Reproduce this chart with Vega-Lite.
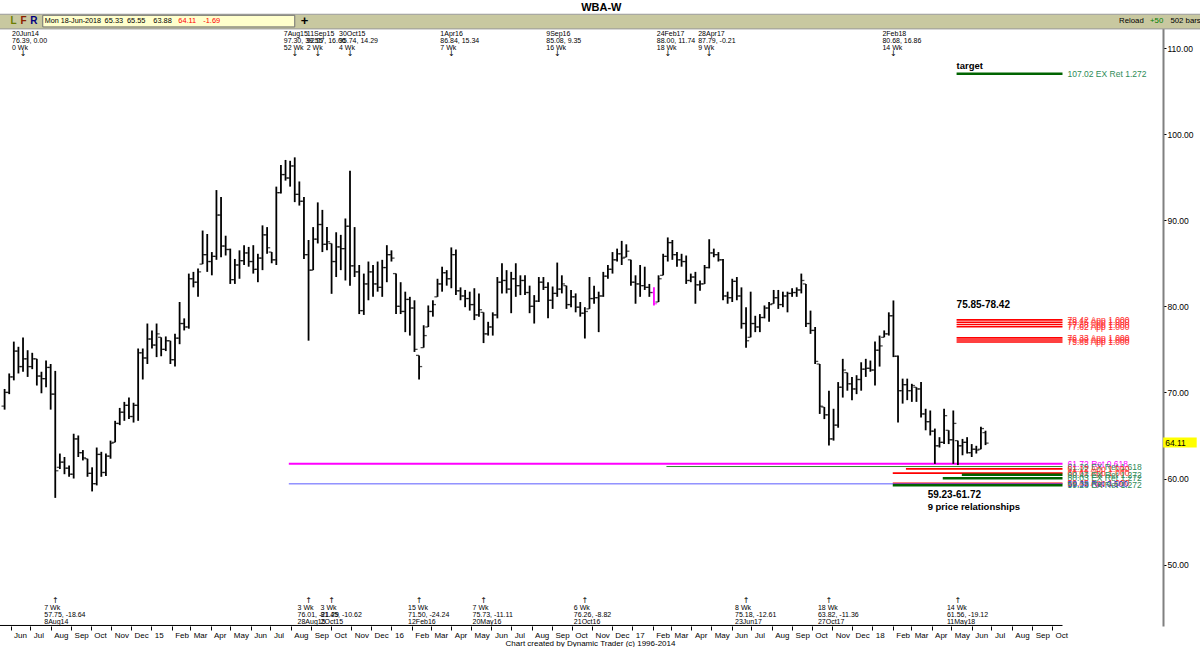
{
"$schema":"https://vega.github.io/schema/vega-lite/v6.json",
"width":1200,"height":612,
"autosize":{"type":"none"},
"padding":{"left":0,"top":14,"right":0,"bottom":21},
"background":"white",
"config":{"view":{"stroke":null},"text":{"font":"Liberation Sans"}},
"title":{"text":"WBA-W","font":"Liberation Sans","fontSize":11,"fontWeight":"bold","anchor":"middle","frame":"bounds","offset":1,"color":"#000"},
"datasets":{
"one":[{}],
"bars":[
{"d":"2014-05-23","o":68.4,"h":70.4,"l":68.0,"c":70.0},
{"d":"2014-05-30","o":70.0,"h":72.2,"l":69.8,"c":71.8},
{"d":"2014-06-06","o":71.8,"h":75.9,"l":71.4,"c":74.8},
{"d":"2014-06-13","o":74.8,"h":75.3,"l":72.2,"c":73.0},
{"d":"2014-06-20","o":73.0,"h":76.39,"l":72.4,"c":73.9},
{"d":"2014-06-27","o":73.9,"h":74.9,"l":71.8,"c":73.0},
{"d":"2014-07-04","o":73.0,"h":74.6,"l":72.7,"c":73.9},
{"d":"2014-07-11","o":73.9,"h":73.9,"l":70.8,"c":71.9},
{"d":"2014-07-18","o":71.9,"h":72.4,"l":69.9,"c":71.6},
{"d":"2014-07-25","o":71.6,"h":73.7,"l":70.6,"c":72.9},
{"d":"2014-08-01","o":72.9,"h":73.3,"l":68.0,"c":69.8},
{"d":"2014-08-08","o":69.8,"h":72.5,"l":57.75,"c":60.9},
{"d":"2014-08-15","o":61.3,"h":62.9,"l":61.1,"c":61.9},
{"d":"2014-08-22","o":61.9,"h":62.5,"l":60.5,"c":61.2},
{"d":"2014-08-29","o":61.2,"h":61.5,"l":60.2,"c":60.5},
{"d":"2014-09-05","o":60.5,"h":65.2,"l":60.0,"c":64.6},
{"d":"2014-09-12","o":64.6,"h":65.0,"l":62.5,"c":63.0},
{"d":"2014-09-19","o":63.0,"h":63.3,"l":62.1,"c":62.4},
{"d":"2014-09-26","o":62.3,"h":62.3,"l":60.2,"c":60.6},
{"d":"2014-10-03","o":60.6,"h":61.3,"l":58.5,"c":59.4},
{"d":"2014-10-10","o":59.4,"h":63.6,"l":59.2,"c":62.8},
{"d":"2014-10-17","o":62.8,"h":63.1,"l":60.2,"c":60.7},
{"d":"2014-10-24","o":60.7,"h":62.9,"l":60.3,"c":62.6},
{"d":"2014-10-31","o":62.6,"h":64.4,"l":62.3,"c":64.1},
{"d":"2014-11-07","o":64.2,"h":66.7,"l":64.2,"c":66.4},
{"d":"2014-11-14","o":66.4,"h":68.2,"l":66.2,"c":67.7},
{"d":"2014-11-21","o":67.7,"h":68.9,"l":66.7,"c":68.5},
{"d":"2014-11-28","o":68.5,"h":69.4,"l":66.9,"c":67.2},
{"d":"2014-12-05","o":67.2,"h":68.8,"l":66.5,"c":68.5},
{"d":"2014-12-12","o":68.5,"h":75.1,"l":66.7,"c":74.6},
{"d":"2014-12-19","o":74.6,"h":75.1,"l":71.5,"c":74.0},
{"d":"2014-12-26","o":74.0,"h":78.0,"l":73.3,"c":76.2},
{"d":"2015-01-02","o":76.2,"h":77.2,"l":75.1,"c":75.5},
{"d":"2015-01-09","o":75.5,"h":78.0,"l":74.1,"c":76.8},
{"d":"2015-01-16","o":76.4,"h":76.4,"l":74.2,"c":75.0},
{"d":"2015-01-23","o":75.0,"h":76.5,"l":74.8,"c":76.0},
{"d":"2015-01-30","o":76.0,"h":76.0,"l":73.3,"c":73.8},
{"d":"2015-02-06","o":73.8,"h":76.8,"l":73.0,"c":76.3},
{"d":"2015-02-13","o":76.3,"h":80.5,"l":75.6,"c":78.0},
{"d":"2015-02-20","o":78.0,"h":78.6,"l":77.2,"c":77.6},
{"d":"2015-02-27","o":77.6,"h":83.8,"l":77.4,"c":83.2},
{"d":"2015-03-06","o":83.2,"h":84.0,"l":82.2,"c":82.8},
{"d":"2015-03-13","o":82.8,"h":84.4,"l":81.1,"c":84.0},
{"d":"2015-03-20","o":84.9,"h":88.8,"l":84.9,"c":86.0},
{"d":"2015-03-27","o":86.0,"h":88.4,"l":84.0,"c":85.2},
{"d":"2015-04-03","o":85.2,"h":86.3,"l":83.6,"c":85.8},
{"d":"2015-04-10","o":85.8,"h":93.5,"l":85.4,"c":90.6},
{"d":"2015-04-17","o":90.6,"h":92.7,"l":85.7,"c":87.0},
{"d":"2015-04-24","o":87.0,"h":88.2,"l":85.9,"c":86.6},
{"d":"2015-05-01","o":86.6,"h":86.7,"l":82.6,"c":83.1},
{"d":"2015-05-08","o":83.1,"h":85.5,"l":82.6,"c":84.8},
{"d":"2015-05-15","o":84.8,"h":86.5,"l":83.2,"c":85.3},
{"d":"2015-05-22","o":85.3,"h":87.1,"l":84.8,"c":86.2},
{"d":"2015-05-29","o":86.2,"h":86.9,"l":84.6,"c":85.2},
{"d":"2015-06-05","o":85.2,"h":87.1,"l":83.8,"c":84.3},
{"d":"2015-06-12","o":84.3,"h":86.1,"l":82.8,"c":85.6},
{"d":"2015-06-19","o":85.6,"h":89.4,"l":84.2,"c":88.3},
{"d":"2015-06-26","o":88.3,"h":89.2,"l":86.1,"c":86.8},
{"d":"2015-07-03","o":86.3,"h":86.3,"l":85.0,"c":85.4},
{"d":"2015-07-10","o":85.4,"h":93.9,"l":84.8,"c":93.2},
{"d":"2015-07-17","o":93.2,"h":96.4,"l":93.1,"c":95.3},
{"d":"2015-07-24","o":95.3,"h":97.0,"l":94.6,"c":94.9},
{"d":"2015-07-31","o":94.9,"h":96.9,"l":93.9,"c":96.3},
{"d":"2015-08-07","o":96.3,"h":97.3,"l":92.1,"c":93.0},
{"d":"2015-08-14","o":93.0,"h":94.5,"l":91.7,"c":92.2},
{"d":"2015-08-21","o":92.2,"h":92.7,"l":85.5,"c":86.0},
{"d":"2015-08-28","o":86.0,"h":87.7,"l":76.01,"c":84.2},
{"d":"2015-09-04","o":84.2,"h":89.2,"l":84.2,"c":87.8},
{"d":"2015-09-11","o":87.8,"h":92.07,"l":87.3,"c":89.5},
{"d":"2015-09-18","o":89.5,"h":91.2,"l":86.3,"c":87.2},
{"d":"2015-09-25","o":87.2,"h":89.2,"l":86.5,"c":87.5},
{"d":"2015-10-02","o":87.3,"h":87.3,"l":81.45,"c":85.2},
{"d":"2015-10-09","o":85.2,"h":88.6,"l":83.4,"c":86.9},
{"d":"2015-10-16","o":86.9,"h":88.3,"l":84.2,"c":86.7},
{"d":"2015-10-23","o":86.7,"h":90.2,"l":83.0,"c":89.3},
{"d":"2015-10-30","o":89.3,"h":95.74,"l":82.4,"c":84.7},
{"d":"2015-11-06","o":84.7,"h":89.2,"l":83.4,"c":84.0},
{"d":"2015-11-13","o":84.0,"h":84.8,"l":79.1,"c":79.5},
{"d":"2015-11-20","o":79.5,"h":83.8,"l":79.0,"c":82.6},
{"d":"2015-11-27","o":82.6,"h":85.2,"l":80.7,"c":84.0},
{"d":"2015-12-04","o":84.0,"h":84.8,"l":81.1,"c":82.6},
{"d":"2015-12-11","o":82.6,"h":85.2,"l":81.7,"c":82.2},
{"d":"2015-12-18","o":82.2,"h":85.4,"l":81.1,"c":84.5},
{"d":"2015-12-25","o":84.5,"h":87.1,"l":82.8,"c":86.0},
{"d":"2016-01-01","o":86.0,"h":86.5,"l":85.2,"c":85.6},
{"d":"2016-01-08","o":83.8,"h":83.8,"l":79.1,"c":80.0},
{"d":"2016-01-15","o":80.0,"h":82.8,"l":79.1,"c":79.4},
{"d":"2016-01-22","o":79.4,"h":81.7,"l":77.0,"c":80.8},
{"d":"2016-01-29","o":80.8,"h":81.1,"l":76.6,"c":79.8},
{"d":"2016-02-05","o":79.8,"h":80.7,"l":74.7,"c":75.0},
{"d":"2016-02-12","o":74.3,"h":74.3,"l":71.5,"c":73.0},
{"d":"2016-02-19","o":75.2,"h":77.8,"l":75.2,"c":76.6},
{"d":"2016-02-26","o":77.6,"h":80.1,"l":77.6,"c":79.4},
{"d":"2016-03-04","o":79.4,"h":80.7,"l":78.8,"c":80.2},
{"d":"2016-03-11","o":81.1,"h":83.2,"l":81.1,"c":82.6},
{"d":"2016-03-18","o":82.6,"h":84.6,"l":81.7,"c":83.9},
{"d":"2016-03-25","o":83.9,"h":84.2,"l":82.4,"c":83.2},
{"d":"2016-04-01","o":83.2,"h":86.84,"l":82.1,"c":86.0},
{"d":"2016-04-08","o":86.0,"h":86.6,"l":81.3,"c":81.8},
{"d":"2016-04-15","o":81.8,"h":82.2,"l":80.7,"c":81.2},
{"d":"2016-04-22","o":81.2,"h":81.9,"l":79.9,"c":80.9},
{"d":"2016-04-29","o":80.9,"h":81.7,"l":79.5,"c":80.2},
{"d":"2016-05-06","o":80.2,"h":82.1,"l":78.4,"c":79.0},
{"d":"2016-05-13","o":79.0,"h":81.5,"l":78.8,"c":79.6},
{"d":"2016-05-20","o":79.3,"h":79.3,"l":75.73,"c":76.8},
{"d":"2016-05-27","o":76.8,"h":78.2,"l":76.6,"c":77.6},
{"d":"2016-06-03","o":77.6,"h":79.3,"l":76.6,"c":79.0},
{"d":"2016-06-10","o":79.0,"h":83.4,"l":78.6,"c":82.8},
{"d":"2016-06-17","o":82.8,"h":85.0,"l":81.5,"c":83.0},
{"d":"2016-06-24","o":83.0,"h":84.2,"l":81.5,"c":82.0},
{"d":"2016-07-01","o":82.0,"h":84.0,"l":79.2,"c":83.2},
{"d":"2016-07-08","o":83.2,"h":85.0,"l":81.1,"c":82.4},
{"d":"2016-07-15","o":82.4,"h":83.6,"l":81.3,"c":83.0},
{"d":"2016-07-22","o":83.0,"h":83.6,"l":81.3,"c":81.6},
{"d":"2016-07-29","o":81.6,"h":82.4,"l":79.2,"c":80.0},
{"d":"2016-08-05","o":80.0,"h":81.3,"l":78.0,"c":80.6},
{"d":"2016-08-12","o":80.6,"h":83.4,"l":80.5,"c":82.8},
{"d":"2016-08-19","o":82.8,"h":83.4,"l":81.9,"c":82.2},
{"d":"2016-08-26","o":82.2,"h":82.8,"l":78.6,"c":80.7},
{"d":"2016-09-02","o":80.7,"h":82.3,"l":79.7,"c":81.5},
{"d":"2016-09-09","o":81.5,"h":85.08,"l":81.1,"c":82.0},
{"d":"2016-09-16","o":82.0,"h":83.6,"l":81.5,"c":82.6},
{"d":"2016-09-23","o":82.4,"h":82.4,"l":79.7,"c":80.2},
{"d":"2016-09-30","o":80.2,"h":81.9,"l":79.9,"c":81.1},
{"d":"2016-10-07","o":81.1,"h":81.5,"l":79.3,"c":79.9},
{"d":"2016-10-14","o":79.9,"h":80.5,"l":78.8,"c":79.2},
{"d":"2016-10-21","o":79.2,"h":79.9,"l":76.26,"c":79.4},
{"d":"2016-10-28","o":79.7,"h":83.4,"l":79.7,"c":80.9},
{"d":"2016-11-04","o":80.9,"h":82.4,"l":80.3,"c":81.0},
{"d":"2016-11-11","o":81.0,"h":81.7,"l":77.0,"c":81.2},
{"d":"2016-11-18","o":81.2,"h":84.0,"l":81.1,"c":83.5},
{"d":"2016-11-25","o":83.5,"h":84.8,"l":83.2,"c":84.3},
{"d":"2016-12-02","o":84.3,"h":86.3,"l":83.8,"c":85.4},
{"d":"2016-12-09","o":85.4,"h":86.7,"l":85.2,"c":86.1},
{"d":"2016-12-16","o":86.1,"h":87.6,"l":84.8,"c":85.6},
{"d":"2016-12-23","o":85.7,"h":87.2,"l":85.7,"c":86.4},
{"d":"2016-12-30","o":85.4,"h":85.4,"l":82.4,"c":82.8},
{"d":"2017-01-06","o":82.8,"h":83.6,"l":80.3,"c":82.6},
{"d":"2017-01-13","o":82.6,"h":84.8,"l":81.1,"c":82.4},
{"d":"2017-01-20","o":82.4,"h":84.6,"l":81.9,"c":82.2},
{"d":"2017-01-27","o":82.2,"h":82.6,"l":81.1,"c":81.6},
{"d":"2017-02-03","o":81.6,"h":82.2,"l":80.1,"c":80.3,"m":1},
{"d":"2017-02-10","o":80.5,"h":83.6,"l":80.5,"c":83.2},
{"d":"2017-02-17","o":83.6,"h":86.1,"l":83.6,"c":85.8},
{"d":"2017-02-24","o":85.8,"h":88.0,"l":85.2,"c":87.4},
{"d":"2017-03-03","o":87.4,"h":87.7,"l":85.4,"c":86.0},
{"d":"2017-03-10","o":86.0,"h":86.3,"l":84.6,"c":85.4},
{"d":"2017-03-17","o":85.4,"h":86.1,"l":84.6,"c":85.2},
{"d":"2017-03-24","o":85.2,"h":85.9,"l":82.6,"c":83.0},
{"d":"2017-03-31","o":83.0,"h":83.8,"l":82.8,"c":83.4},
{"d":"2017-04-07","o":83.4,"h":84.0,"l":80.3,"c":82.5},
{"d":"2017-04-14","o":82.5,"h":83.0,"l":81.8,"c":82.6},
{"d":"2017-04-21","o":82.6,"h":84.8,"l":82.6,"c":84.5},
{"d":"2017-04-28","o":84.5,"h":87.79,"l":84.4,"c":86.2},
{"d":"2017-05-05","o":86.2,"h":86.7,"l":85.7,"c":86.0},
{"d":"2017-05-12","o":86.0,"h":86.3,"l":85.2,"c":85.4},
{"d":"2017-05-19","o":85.4,"h":85.5,"l":80.7,"c":81.2},
{"d":"2017-05-26","o":81.2,"h":81.7,"l":80.3,"c":81.0},
{"d":"2017-06-02","o":81.0,"h":83.2,"l":80.5,"c":82.9},
{"d":"2017-06-09","o":82.9,"h":83.4,"l":80.7,"c":81.2},
{"d":"2017-06-16","o":81.2,"h":82.2,"l":77.4,"c":78.0},
{"d":"2017-06-23","o":78.0,"h":79.9,"l":75.18,"c":76.0},
{"d":"2017-06-30","o":76.4,"h":81.7,"l":76.4,"c":78.0},
{"d":"2017-07-07","o":78.0,"h":78.9,"l":77.0,"c":77.6},
{"d":"2017-07-14","o":77.6,"h":79.1,"l":77.0,"c":78.7},
{"d":"2017-07-21","o":78.7,"h":80.1,"l":78.6,"c":79.8},
{"d":"2017-07-28","o":79.8,"h":80.5,"l":78.2,"c":80.2},
{"d":"2017-08-04","o":80.3,"h":81.9,"l":80.3,"c":81.0},
{"d":"2017-08-11","o":81.0,"h":81.9,"l":79.7,"c":80.2},
{"d":"2017-08-18","o":80.2,"h":81.7,"l":79.9,"c":81.2},
{"d":"2017-08-25","o":81.2,"h":81.7,"l":79.3,"c":81.5},
{"d":"2017-09-01","o":81.5,"h":82.1,"l":81.1,"c":81.6},
{"d":"2017-09-08","o":81.6,"h":82.2,"l":81.1,"c":81.9},
{"d":"2017-09-15","o":81.9,"h":83.8,"l":81.5,"c":83.0},
{"d":"2017-09-22","o":82.6,"h":82.6,"l":77.6,"c":78.0},
{"d":"2017-09-29","o":78.0,"h":79.5,"l":76.8,"c":77.2},
{"d":"2017-10-06","o":77.2,"h":77.6,"l":73.3,"c":73.6},
{"d":"2017-10-13","o":73.3,"h":73.3,"l":67.5,"c":68.4},
{"d":"2017-10-20","o":68.3,"h":68.3,"l":66.9,"c":67.4},
{"d":"2017-10-27","o":67.4,"h":70.2,"l":63.82,"c":64.6},
{"d":"2017-11-03","o":64.6,"h":68.1,"l":64.4,"c":66.2},
{"d":"2017-11-10","o":66.2,"h":71.2,"l":65.9,"c":70.6},
{"d":"2017-11-17","o":70.6,"h":73.9,"l":69.4,"c":72.6},
{"d":"2017-11-24","o":72.3,"h":72.3,"l":70.2,"c":71.0},
{"d":"2017-12-01","o":71.0,"h":71.8,"l":69.1,"c":70.4},
{"d":"2017-12-08","o":70.4,"h":72.0,"l":69.8,"c":71.5},
{"d":"2017-12-15","o":71.5,"h":73.5,"l":70.2,"c":72.7},
{"d":"2017-12-22","o":72.7,"h":73.9,"l":71.8,"c":72.8},
{"d":"2017-12-29","o":72.8,"h":73.7,"l":72.4,"c":72.6},
{"d":"2018-01-05","o":72.6,"h":75.9,"l":70.8,"c":74.9},
{"d":"2018-01-12","o":74.9,"h":76.6,"l":73.0,"c":75.4},
{"d":"2018-01-19","o":76.4,"h":77.2,"l":76.4,"c":76.8},
{"d":"2018-01-26","o":76.8,"h":79.3,"l":76.6,"c":78.9},
{"d":"2018-02-02","o":78.9,"h":80.68,"l":74.1,"c":74.2},
{"d":"2018-02-09","o":74.2,"h":74.3,"l":66.5,"c":70.2},
{"d":"2018-02-16","o":70.2,"h":71.6,"l":68.7,"c":70.9},
{"d":"2018-02-23","o":70.9,"h":71.6,"l":69.1,"c":70.2},
{"d":"2018-03-02","o":70.2,"h":71.0,"l":68.9,"c":70.8},
{"d":"2018-03-09","o":70.6,"h":70.6,"l":68.9,"c":70.4},
{"d":"2018-03-16","o":70.4,"h":71.2,"l":67.1,"c":67.5},
{"d":"2018-03-23","o":67.5,"h":68.1,"l":65.6,"c":66.6},
{"d":"2018-03-30","o":66.6,"h":67.9,"l":65.0,"c":65.5},
{"d":"2018-04-06","o":65.5,"h":65.8,"l":61.7,"c":63.8},
{"d":"2018-04-13","o":63.8,"h":64.8,"l":63.6,"c":64.2},
{"d":"2018-04-20","o":64.2,"h":68.1,"l":64.0,"c":67.3},
{"d":"2018-04-27","o":65.6,"h":65.6,"l":64.0,"c":64.5},
{"d":"2018-05-04","o":64.5,"h":67.9,"l":61.7,"c":66.4},
{"d":"2018-05-11","o":64.4,"h":64.4,"l":61.56,"c":63.8},
{"d":"2018-05-18","o":63.8,"h":64.6,"l":62.7,"c":64.2},
{"d":"2018-05-25","o":64.2,"h":64.8,"l":62.9,"c":63.0},
{"d":"2018-06-01","o":63.0,"h":64.0,"l":62.5,"c":63.4},
{"d":"2018-06-08","o":63.4,"h":63.8,"l":62.9,"c":63.3},
{"d":"2018-06-15","o":63.4,"h":66.0,"l":63.4,"c":65.8},
{"d":"2018-06-22","o":65.33,"h":65.55,"l":63.88,"c":64.11}
],
"levels":[
{"p":107.02,"s":"2018-05-09","e":"2018-10-17","k":"EX Ret 1.272","lab":"107.02 EX Ret 1.272"},
{"p":78.42,"s":"2018-05-09","e":"2018-10-17","k":"App 1.000","lab":"78.42 App 1.000"},
{"p":78.15,"s":"2018-05-09","e":"2018-10-17","k":"App 1.000","lab":"78.15 App 1.000"},
{"p":77.88,"s":"2018-05-09","e":"2018-10-17","k":"App 1.000","lab":"77.88 App 1.000"},
{"p":77.62,"s":"2018-05-09","e":"2018-10-17","k":"App 1.000","lab":"77.62 App 1.000"},
{"p":76.33,"s":"2018-05-09","e":"2018-10-17","k":"App 1.000","lab":"76.33 App 1.000"},
{"p":76.09,"s":"2018-05-09","e":"2018-10-17","k":"App 1.000","lab":"76.09 App 1.000"},
{"p":75.85,"s":"2018-05-09","e":"2018-10-17","k":"App 1.000","lab":"75.85 App 1.000"},
{"p":61.72,"s":"2015-07-29","e":"2018-10-17","k":"Ret 0.618","lab":"61.72 Ret 0.618"},
{"p":61.39,"s":"2017-02-22","e":"2018-10-17","k":"EX Ret 1.618","lab":"61.39 EX Ret 1.618"},
{"p":61.12,"s":"2018-02-21","e":"2018-10-17","k":"App 1.000","lab":"61.12 App 1.000"},
{"p":60.62,"s":"2018-02-01","e":"2018-10-17","k":"App 1.000","lab":"60.62 App 1.000"},
{"p":60.43,"s":"2018-05-17","e":"2018-10-17","k":"EX Ret 1.272","lab":"60.43 EX Ret 1.272"},
{"p":60.03,"s":"2018-04-18","e":"2018-10-17","k":"EX Ret 1.272","lab":"60.03 EX Ret 1.272"},
{"p":59.45,"s":"2018-02-01","e":"2018-10-17","k":"App 1.000","lab":"59.45 App 1.000"},
{"p":59.38,"s":"2015-07-29","e":"2018-10-17","k":"Ret 0.500","lab":"59.38 Ret 0.500"},
{"p":59.23,"s":"2018-02-01","e":"2018-10-17","k":"EX Ret 1.272","lab":"59.23 EX Ret 1.272"}
],
"highs":[
{"d":"2014-06-20","t":"20Jun14\n76.39, 0.00\n0 Wk"},
{"d":"2015-08-07","t":"7Aug15\n97.30, 39.55\n52 Wk"},
{"d":"2015-09-11","t":"11Sep15\n92.07, 16.06\n2 Wk"},
{"d":"2015-10-30","t":"30Oct15\n95.74, 14.29\n4 Wk"},
{"d":"2016-04-01","t":"1Apr16\n86.84, 15.34\n7 Wk"},
{"d":"2016-09-09","t":"9Sep16\n85.08, 9.35\n16 Wk"},
{"d":"2017-02-24","t":"24Feb17\n88.00, 11.74\n18 Wk"},
{"d":"2017-04-28","t":"28Apr17\n87.79, -0.21\n9 Wk"},
{"d":"2018-02-02","t":"2Feb18\n80.68, 16.86\n14 Wk"}
],
"lows":[
{"d":"2014-08-08","t":"7 Wk\n57.75, -18.64\n8Aug14"},
{"d":"2015-08-28","t":"3 Wk\n76.01, -21.29\n28Aug15"},
{"d":"2015-10-02","t":"3 Wk\n81.45, -10.62\n2Oct15"},
{"d":"2016-02-12","t":"15 Wk\n71.50, -24.24\n12Feb16"},
{"d":"2016-05-20","t":"7 Wk\n75.73, -11.11\n20May16"},
{"d":"2016-10-21","t":"6 Wk\n76.26, -8.82\n21Oct16"},
{"d":"2017-06-23","t":"8 Wk\n75.18, -12.61\n23Jun17"},
{"d":"2017-10-27","t":"18 Wk\n63.82, -11.36\n27Oct17"},
{"d":"2018-05-11","t":"14 Wk\n61.56, -19.12\n11May18"}
]
},
"resolve":{"scale":{"color":"independent","strokeWidth":"independent"}},
"layer":[
{"data":{"name":"one"},"mark":{"type":"rect","fill":"#c8c8a0","stroke":"#9a9a9a","strokeWidth":1},
 "encoding":{
  "x":{"datum":{"year":2014,"month":5,"date":14},"type":"temporal",
   "scale":{"domain":[{"year":2014,"month":5,"date":16},{"year":2019,"month":5,"date":14}],"nice":false},
   "axis":{"title":"Chart created by Dynamic Trader  (c) 1996-2014","titleFont":"Liberation Sans","titleFontSize":8,"titleFontWeight":"normal","titleColor":"#000","titlePadding":0,"titleX":590,
    "domain":false,"grid":false,"tickCount":{"interval":"month","step":1},"tickSize":4,"tickColor":"#000",
    "tickOpacity":{"condition":{"test":"datum.value > datetime(2018,9,20)","value":0},"value":1},
    "labelExpr":"datum.value > datetime(2018,9,20) ? '' : (month(datum.value) == 0 ? timeFormat(datum.value, '%y') : timeFormat(datum.value, '%b'))",
    "labelAlign":"left","labelOffset":3,"labelPadding":1,"labelFont":"Liberation Sans","labelFontSize":8,"labelColor":"#000","labelOverlap":false,"labelFlush":false,"labelBound":false}},
  "x2":{"datum":{"year":2019,"month":5,"date":20}},
  "y":{"datum":112.22,"type":"quantitative",
   "scale":{"domain":[42.87,113.95],"nice":false,"zero":false},
   "axis":{"orient":"right","offset":-37,"zindex":0,"title":null,"values":[50,60,70,80,90,100,110],"format":".2f","grid":false,
    "domainColor":"#808080","domainWidth":2,"tickSize":3,"tickColor":"#000","labelFont":"Liberation Sans","labelFontSize":8.5,"labelColor":"#000","labelPadding":1}},
  "y2":{"datum":113.92}}},
{"data":{"name":"one"},"mark":{"type":"rect","fill":"#ffffcc","stroke":"#707070","strokeWidth":1},
 "encoding":{"x":{"datum":{"year":2014,"month":7,"date":20},"type":"temporal"},"x2":{"datum":{"year":2015,"month":8,"date":7}},
  "y":{"datum":112.45,"type":"quantitative"},"y2":{"datum":113.8}}},
{"data":{"name":"one"},"mark":{"type":"text","text":"Mon 18-Jun-2018","align":"left","baseline":"middle","fontSize":7.2,"color":"#000"},
 "encoding":{"x":{"datum":{"year":2014,"month":7,"date":23},"type":"temporal"},"y":{"datum":113.12,"type":"quantitative"}}},
{"data":{"name":"one"},"mark":{"type":"text","text":"65.33","align":"left","baseline":"middle","fontSize":7.4,"color":"#000"},
 "encoding":{"x":{"datum":{"year":2014,"month":10,"date":22},"type":"temporal"},"y":{"datum":113.12,"type":"quantitative"}}},
{"data":{"name":"one"},"mark":{"type":"text","text":"65.55","align":"left","baseline":"middle","fontSize":7.4,"color":"#000"},
 "encoding":{"x":{"datum":{"year":2014,"month":11,"date":25},"type":"temporal"},"y":{"datum":113.12,"type":"quantitative"}}},
{"data":{"name":"one"},"mark":{"type":"text","text":"63.88","align":"left","baseline":"middle","fontSize":7.4,"color":"#000"},
 "encoding":{"x":{"datum":{"year":2015,"month":1,"date":4},"type":"temporal"},"y":{"datum":113.12,"type":"quantitative"}}},
{"data":{"name":"one"},"mark":{"type":"text","text":"64.11","align":"left","baseline":"middle","fontSize":7.4,"color":"#ff0000"},
 "encoding":{"x":{"datum":{"year":2015,"month":2,"date":11},"type":"temporal"},"y":{"datum":113.12,"type":"quantitative"}}},
{"data":{"name":"one"},"mark":{"type":"text","text":"-1.69","align":"left","baseline":"middle","fontSize":7.4,"color":"#ff0000"},
 "encoding":{"x":{"datum":{"year":2015,"month":3,"date":21},"type":"temporal"},"y":{"datum":113.12,"type":"quantitative"}}},
{"data":{"name":"one"},"mark":{"type":"text","text":"L","align":"left","baseline":"middle","fontSize":10,"fontWeight":"bold","color":"#6b7d00"},
 "encoding":{"x":{"datum":{"year":2014,"month":6,"date":1},"type":"temporal"},"y":{"datum":113.12,"type":"quantitative"}}},
{"data":{"name":"one"},"mark":{"type":"text","text":"F","align":"left","baseline":"middle","fontSize":10,"fontWeight":"bold","color":"#8b2000"},
 "encoding":{"x":{"datum":{"year":2014,"month":6,"date":16},"type":"temporal"},"y":{"datum":113.12,"type":"quantitative"}}},
{"data":{"name":"one"},"mark":{"type":"text","text":"R","align":"left","baseline":"middle","fontSize":10,"fontWeight":"bold","color":"#000080"},
 "encoding":{"x":{"datum":{"year":2014,"month":7,"date":1},"type":"temporal"},"y":{"datum":113.12,"type":"quantitative"}}},
{"data":{"name":"one"},"mark":{"type":"text","text":"+","align":"left","baseline":"middle","fontSize":13,"fontWeight":"bold","color":"#000"},
 "encoding":{"x":{"datum":{"year":2015,"month":8,"date":16},"type":"temporal"},"y":{"datum":113.12,"type":"quantitative"}}},
{"data":{"name":"one"},"mark":{"type":"text","text":"Reload","align":"left","baseline":"middle","fontSize":7.8,"color":"#000"},
 "encoding":{"x":{"datum":{"year":2019,"month":1,"date":11},"type":"temporal"},"y":{"datum":113.12,"type":"quantitative"}}},
{"data":{"name":"one"},"mark":{"type":"text","text":"+50","align":"left","baseline":"middle","fontSize":7.8,"color":"#008000"},
 "encoding":{"x":{"datum":{"year":2019,"month":2,"date":27},"type":"temporal"},"y":{"datum":113.12,"type":"quantitative"}}},
{"data":{"name":"one"},"mark":{"type":"text","text":"502 bars","align":"left","baseline":"middle","fontSize":7.8,"color":"#000"},
 "encoding":{"x":{"datum":{"year":2019,"month":3,"date":30},"type":"temporal"},"y":{"datum":113.12,"type":"quantitative"}}},
{"data":{"name":"levels"},
 "mark":{"type":"rule"},
 "encoding":{"x":{"field":"s","type":"temporal"},"x2":{"field":"e"},"y":{"field":"p","type":"quantitative"},
  "color":{"field":"k","type":"nominal","legend":null,"scale":{"domain":["App 1.000","EX Ret 1.272","EX Ret 1.618","Ret 0.618","Ret 0.500"],"range":["#ff0000","#006400","#2e8b2e","#ff00ff","#5a5aff"]}},
  "strokeWidth":{"field":"k","type":"nominal","legend":null,"scale":{"type":"ordinal","domain":["App 1.000","EX Ret 1.272","EX Ret 1.618","Ret 0.618","Ret 0.500"],"range":[1.6,2.5,1,2,1]}}}},
{"data":{"name":"levels"},
 "mark":{"type":"text","align":"left","baseline":"middle","dx":5,"fontSize":8.5},
 "encoding":{"x":{"field":"e","type":"temporal"},"y":{"field":"p","type":"quantitative"},"text":{"field":"lab"},
  "color":{"field":"k","type":"nominal","legend":null,"scale":{"domain":["App 1.000","EX Ret 1.272","EX Ret 1.618","Ret 0.618","Ret 0.500"],"range":["#ff3030","#2e8b57","#2e8b57","#ff00ff","#3333cc"]}}}},
{"data":{"name":"bars"},
 "mark":{"type":"rule","strokeWidth":1.8},
 "encoding":{"x":{"field":"d","type":"temporal"},"y":{"field":"l","type":"quantitative"},"y2":{"field":"h"},
  "color":{"condition":{"test":"datum.m == 1","value":"#ff00ff"},"value":"#000"}}},
{"data":{"name":"bars"},
 "mark":{"type":"tick","orient":"horizontal","size":3,"thickness":1.3,"xOffset":-1.6},
 "encoding":{"x":{"field":"d","type":"temporal"},"y":{"field":"o","type":"quantitative"},
  "color":{"condition":{"test":"datum.m == 1","value":"#ff00ff"},"value":"#000"}}},
{"data":{"name":"bars"},
 "mark":{"type":"tick","orient":"horizontal","size":3,"thickness":1.3,"xOffset":1.6},
 "encoding":{"x":{"field":"d","type":"temporal"},"y":{"field":"c","type":"quantitative"},
  "color":{"condition":{"test":"datum.m == 1","value":"#ff00ff"},"value":"#000"}}},
{"data":{"name":"highs"},
 "mark":{"type":"text","align":"left","baseline":"top","dx":-11,"fontSize":7,"lineHeight":7,"lineBreak":"\n","color":"#000"},
 "encoding":{"x":{"field":"d","type":"temporal"},"y":{"datum":112.09,"type":"quantitative"},"text":{"field":"t"}}},
{"data":{"name":"highs"},
 "mark":{"type":"text","text":"↓","align":"center","baseline":"top","fontSize":8,"font":"DejaVu Sans","color":"#000"},
 "encoding":{"x":{"field":"d","type":"temporal"},"y":{"datum":109.72,"type":"quantitative"}}},
{"data":{"name":"lows"},
 "mark":{"type":"text","align":"left","baseline":"top","dx":-11,"fontSize":7,"lineHeight":7,"lineBreak":"\n","color":"#000"},
 "encoding":{"x":{"field":"d","type":"temporal"},"y":{"datum":45.42,"type":"quantitative"},"text":{"field":"t"}}},
{"data":{"name":"lows"},
 "mark":{"type":"text","text":"↑","align":"center","baseline":"bottom","fontSize":8,"font":"DejaVu Sans","color":"#000"},
 "encoding":{"x":{"field":"d","type":"temporal"},"y":{"datum":45.35,"type":"quantitative"}}},
{"data":{"name":"one"},"mark":{"type":"text","text":"target","align":"left","baseline":"middle","fontSize":9.5,"fontWeight":"bold","color":"#000"},
 "encoding":{"x":{"datum":{"year":2018,"month":5,"date":9},"type":"temporal"},"y":{"datum":107.91,"type":"quantitative"}}},
{"data":{"name":"one"},"mark":{"type":"text","text":"75.85-78.42","align":"left","baseline":"middle","fontSize":10,"fontWeight":"bold","color":"#000"},
 "encoding":{"x":{"datum":{"year":2018,"month":5,"date":9},"type":"temporal"},"y":{"datum":80.15,"type":"quantitative"}}},
{"data":{"name":"one"},"mark":{"type":"text","text":"59.23-61.72","align":"left","baseline":"middle","fontSize":10,"fontWeight":"bold","color":"#000"},
 "encoding":{"x":{"datum":{"year":2018,"month":3,"date":26},"type":"temporal"},"y":{"datum":58.08,"type":"quantitative"}}},
{"data":{"name":"one"},"mark":{"type":"text","text":"9 price relationships","align":"left","baseline":"middle","fontSize":9.5,"fontWeight":"bold","color":"#000"},
 "encoding":{"x":{"datum":{"year":2018,"month":3,"date":26},"type":"temporal"},"y":{"datum":56.69,"type":"quantitative"}}},
{"data":{"name":"one"},"mark":{"type":"rect","fill":"#ffff00"},
 "encoding":{"x":{"datum":{"year":2019,"month":3,"date":19},"type":"temporal"},"x2":{"datum":{"year":2019,"month":5,"date":9}},
  "y":{"datum":63.6,"type":"quantitative"},"y2":{"datum":64.76}}},
{"data":{"name":"one"},"mark":{"type":"text","text":"64.11","align":"left","baseline":"middle","fontSize":8.5,"color":"#000","dx":2},
 "encoding":{"x":{"datum":{"year":2019,"month":3,"date":19},"type":"temporal"},"y":{"datum":64.18,"type":"quantitative"}}},
{"data":{"name":"one"},"mark":{"type":"rule","color":"#000","strokeWidth":1},
 "encoding":{"x":{"datum":{"year":2014,"month":5,"date":16},"type":"temporal"},"x2":{"datum":{"year":2018,"month":10,"date":17}},
  "y":{"datum":42.93,"type":"quantitative"}}}
]
}
